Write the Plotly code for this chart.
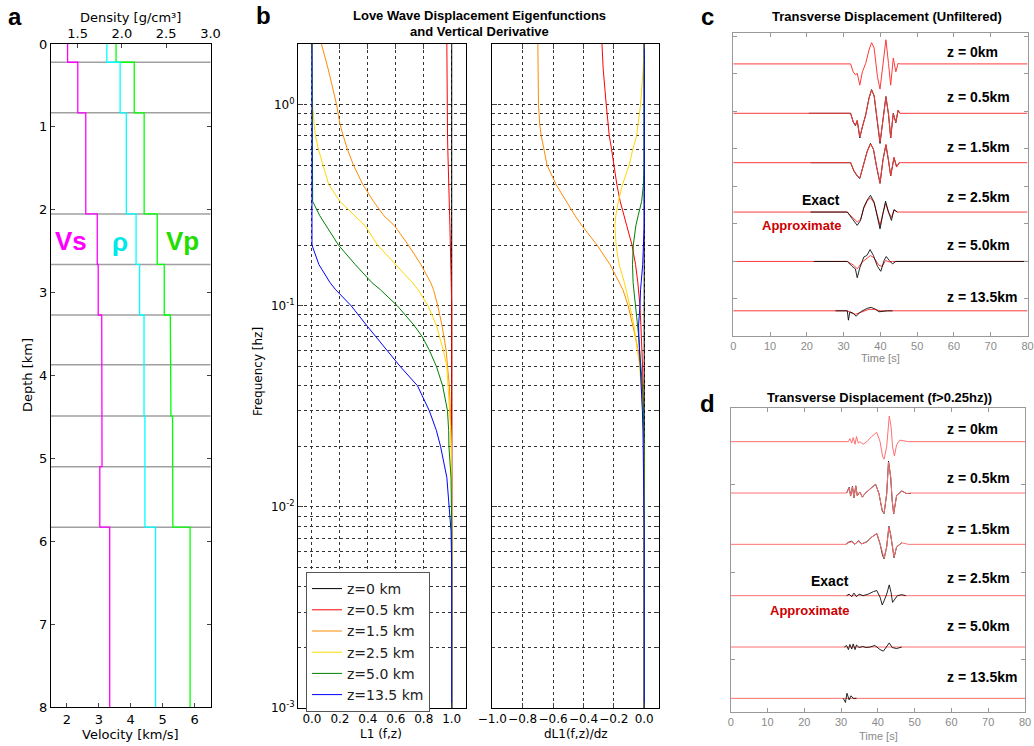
import math
import plotly.graph_objects as go

# ---------------- Panel a: layered velocity / density model ----------------
LAYER_TOP_KM = [0.0, 0.22, 0.83, 2.05, 2.66, 3.27, 3.87, 4.49, 5.10, 5.83]
MODEL_BOTTOM_KM = 8.0
VS_KMS = [2.02, 2.34, 2.59, 2.95, 2.98, 3.09, 3.09, 3.10, 3.03, 3.34]
VP_KMS = [3.54, 4.11, 4.42, 4.83, 5.05, 5.24, 5.26, 5.31, 5.32, 5.86]
RHO_GCC = [1.83, 1.98, 2.05, 2.16, 2.20, 2.25, 2.25, 2.26, 2.26, 2.38]

# ---------------- Panel b: Love-wave eigenfunctions ----------------
FREQ_HZ = [2.0, 1.5, 1.0, 0.8, 0.7, 0.6, 0.5, 0.4, 0.33, 0.28,
           0.25, 0.2, 0.16, 0.13, 0.12, 0.1, 0.08, 0.07, 0.06, 0.05,
           0.04, 0.034, 0.03, 0.024, 0.02, 0.014, 0.01, 0.0076, 0.005, 0.001]
DEPTH_NAMES = ["z=0 km", "z=0.5 km", "z=1.5 km", "z=2.5 km", "z=5.0 km", "z=13.5 km"]

L1_Z00 = [1.0, 1.0, 1.0, 1.0, 1.0, 1.0, 1.0, 1.0, 1.0, 1.0,
          1.0, 1.0, 1.0, 1.0, 1.0, 1.0, 1.0, 1.0, 1.0, 1.0,
          1.0, 1.0, 1.0, 1.0, 1.0, 1.0, 1.0, 1.0, 1.0, 1.0]
L1_Z05 = [0.965, 0.965, 0.966, 0.968, 0.970, 0.972, 0.974, 0.977, 0.983, 0.985,
          0.987, 0.990, 0.995, 0.998, 1.0, 1.0, 1.0, 1.0, 1.0, 1.0,
          1.0, 1.0, 1.0, 1.0, 1.0, 1.0, 1.0, 1.0, 1.0, 1.0]
L1_Z15 = [0.068, 0.116, 0.176, 0.200, 0.224, 0.253, 0.297, 0.364, 0.440, 0.515,
          0.590, 0.690, 0.780, 0.850, 0.870, 0.900, 0.930, 0.945, 0.960, 0.970,
          0.983, 0.987, 0.990, 0.995, 0.997, 1.0, 1.0, 1.0, 1.0, 1.0]
L1_Z25 = [0.0, 0.0, 0.005, 0.015, 0.025, 0.046, 0.078, 0.120, 0.200, 0.310,
          0.380, 0.470, 0.600, 0.720, 0.760, 0.830, 0.890, 0.915, 0.940, 0.965,
          0.975, 0.980, 0.985, 0.993, 0.997, 1.0, 1.0, 1.0, 1.0, 1.0]
L1_Z50 = [0.0, 0.0, 0.0, 0.0, 0.0, 0.0, 0.0, 0.0, 0.005, 0.056,
          0.100, 0.190, 0.310, 0.430, 0.490, 0.610, 0.730, 0.790, 0.840, 0.890,
          0.935, 0.955, 0.970, 0.978, 0.980, 0.995, 1.0, 1.0, 1.0, 1.0]
L1_Z135 = [0.0, 0.0, 0.0, 0.0, 0.0, 0.0, 0.0, 0.0, 0.0, 0.0,
           0.0, 0.0, 0.05, 0.13, 0.17, 0.28, 0.39, 0.46, 0.54, 0.63,
           0.755, 0.80, 0.84, 0.89, 0.92, 0.965, 0.98, 0.995, 1.0, 1.0]

DL1_Z00 = [0.0, 0.0, 0.0, 0.0, 0.0, 0.0, 0.0, 0.0, 0.0, 0.0,
           0.0, 0.0, 0.0, 0.0, 0.0, 0.0, 0.0, 0.0, 0.0, 0.0,
           0.0, 0.0, 0.0, 0.0, 0.0, 0.0, 0.0, 0.0, 0.0, 0.0]
DL1_Z05 = [-0.278, -0.27, -0.25, -0.24, -0.23, -0.215, -0.20, -0.18, -0.158, -0.13,
           -0.115, -0.08, -0.057, -0.042, -0.037, -0.028, -0.022, -0.018, -0.013, -0.011,
           -0.008, -0.007, -0.005, -0.003, -0.002, 0.0, 0.0, 0.0, 0.0, 0.0]
DL1_Z15 = [-0.70, -0.70, -0.696, -0.688, -0.678, -0.66, -0.64, -0.58, -0.513, -0.455,
           -0.41, -0.31, -0.225, -0.16, -0.14, -0.106, -0.073, -0.058, -0.04, -0.025,
           -0.017, -0.012, -0.01, -0.005, -0.003, 0.0, 0.0, 0.0, 0.0, 0.0]
DL1_Z25 = [0.0, -0.007, -0.024, -0.038, -0.05, -0.075, -0.099, -0.143, -0.17, -0.187,
           -0.193, -0.185, -0.165, -0.13, -0.118, -0.095, -0.068, -0.055, -0.045, -0.03,
           -0.02, -0.012, -0.01, -0.005, -0.003, 0.0, 0.0, 0.0, 0.0, 0.0]
DL1_Z50 = [0.0, 0.0, 0.0, 0.0, 0.0, 0.0, 0.0, -0.005, -0.017, -0.04,
           -0.055, -0.072, -0.077, -0.073, -0.068, -0.055, -0.044, -0.036, -0.03, -0.02,
           -0.012, -0.007, -0.005, -0.003, -0.001, 0.0, 0.0, 0.0, 0.0, 0.0]
DL1_Z135 = [0.0, 0.0, 0.0, 0.0, 0.0, 0.0, 0.0, 0.0, 0.0, 0.0,
            0.0, -0.005, -0.01, -0.02, -0.024, -0.028, -0.037, -0.035, -0.03, -0.024,
            -0.018, -0.015, -0.012, -0.008, -0.006, -0.003, -0.001, 0.0, 0.0, 0.0]

# ---------------- Panel c: unfiltered transverse displacement ----------------
C_Z00_T = [0, 31.9, 32.6, 33.2, 33.7, 34.4, 35.1, 36.0, 36.9, 37.6, 38.3, 39.2, 39.9, 40.7, 41.5, 42.2, 42.8, 43.5, 44.2, 44.8, 45.3, 80]
C_Z00_APPROX = [0, 0, -0.16, -0.22, -0.19, -0.43, -0.16, 0.01, 0.28, 0.43, 0.32, -0.26, -0.51, 0.01, 0.49, 0.01, -0.43, 0.12, -0.16, 0.01, 0, 0]

C_Z05_T = [0, 31.9, 32.6, 33.2, 33.7, 34.4, 35.1, 36.0, 36.9, 37.6, 38.3, 39.2, 39.9, 40.7, 41.5, 42.2, 42.8, 43.5, 44.2, 44.8, 45.3, 80]
C_Z05_APPROX = [0, 0, -0.18, -0.24, -0.14, -0.48, -0.28, -0.04, 0.30, 0.47, 0.36, -0.14, -0.58, -0.14, 0.33, -0.01, -0.49, -0.01, -0.18, 0.06, 0, 0]
C_Z05_EXACT_T = [20.5, 31.9, 32.6, 33.2, 33.7, 34.4, 35.1, 36.0, 36.9, 37.6, 38.3, 39.2, 39.9, 40.7, 41.5, 42.2, 42.8, 43.5, 44.2, 44.8, 45.3]
C_Z05_EXACT = [0, 0, -0.17, -0.25, -0.15, -0.50, -0.27, -0.03, 0.31, 0.48, 0.35, -0.15, -0.61, -0.13, 0.34, -0.02, -0.50, 0.0, -0.19, 0.06, 0]

C_Z15_T = [0, 31.9, 32.8, 33.7, 34.4, 35.5, 36.4, 37.3, 38.1, 39.0, 39.9, 40.7, 41.5, 42.2, 42.8, 43.7, 44.4, 45.2, 45.5, 80]
C_Z15_APPROX = [0, 0, -0.16, -0.26, -0.31, -0.02, 0.22, 0.38, 0.28, -0.09, -0.41, 0.05, 0.37, 0.05, -0.26, 0.11, -0.09, 0.01, 0, 0]
C_Z15_EXACT_T = [21.0, 31.9, 32.8, 33.7, 34.4, 35.5, 36.4, 37.3, 38.1, 39.0, 39.9, 40.7, 41.5, 42.2, 42.8, 43.7, 44.4, 45.2]
C_Z15_EXACT = [0, 0, -0.17, -0.27, -0.32, -0.03, 0.23, 0.39, 0.27, -0.10, -0.42, 0.06, 0.36, 0.04, -0.27, 0.10, -0.08, 0]

C_Z25_T = [0, 31.0, 32.3, 33.7, 34.6, 35.5, 36.4, 37.3, 38.3, 39.2, 39.9, 40.7, 41.4, 42.2, 43.0, 43.7, 44.6, 80]
C_Z25_APPROX = [0, 0, -0.10, -0.20, -0.15, 0.08, 0.22, 0.29, 0.18, -0.08, -0.27, -0.02, 0.17, 0.0, -0.11, 0.04, 0, 0]
C_Z25_EXACT_T = [21.0, 31.0, 32.3, 33.7, 34.6, 35.5, 36.4, 37.3, 38.3, 39.2, 39.9, 40.7, 41.4, 42.2, 43.0, 43.7, 44.6]
C_Z25_EXACT = [0, 0, -0.13, -0.27, -0.17, 0.10, 0.24, 0.34, 0.20, -0.10, -0.34, -0.03, 0.22, 0, -0.17, 0.05, 0]

C_Z50_T = [0, 31.0, 32.8, 33.7, 35.1, 36.4, 37.3, 38.3, 39.6, 40.5, 41.4, 42.4, 43.3, 80]
C_Z50_APPROX = [0, 0, -0.08, -0.15, -0.01, 0.07, 0.12, 0.07, -0.08, -0.10, 0.02, -0.01, 0, 0]
C_Z50_EXACT_T = [21.9, 31.0, 32.3, 33.2, 33.7, 34.4, 35.5, 36.3, 37.2, 38.1, 39.2, 40.1, 41.0, 41.6, 42.4, 43.3, 44.2, 80]
C_Z50_EXACT = [0, 0, -0.10, -0.15, -0.33, -0.13, 0.09, 0.12, 0.24, 0.12, -0.10, -0.20, 0.02, 0.10, 0.02, -0.05, 0, 0]

C_Z135_T = [0, 31.0, 32.3, 33.2, 35.1, 36.9, 38.3, 40.1, 80]
C_Z135_APPROX = [0, 0, -0.05, -0.07, -0.02, 0.03, 0.03, 0, 0]
C_Z135_EXACT_T = [27.8, 31.0, 31.3, 31.7, 32.6, 33.4, 34.6, 36.4, 37.5, 38.7, 39.6, 40.5, 41.9, 43.3]
C_Z135_EXACT = [0, 0, -0.19, -0.02, -0.05, -0.11, -0.02, 0.05, 0.07, 0.03, -0.02, -0.01, 0, 0]

# ---------------- Panel d: filtered (f > 0.25 Hz) ----------------
D_Z00_T = [0, 32.0, 32.4, 32.9, 33.3, 33.8, 34.2, 34.7, 35.1, 36.0, 37.0, 38.3, 39.7, 40.6, 41.3, 41.7, 42.4, 43.1, 43.6, 44.0, 44.5, 45.1, 46.0, 47.4, 48.3, 80]
D_Z00_APPROX = [0, 0, 0.06, -0.03, 0.08, -0.05, 0.10, -0.03, 0, -0.05, 0, 0.10, 0.18, 0, -0.29, -0.34, -0.10, 0.50, 0.29, -0.10, -0.28, -0.06, 0.03, 0.01, 0, 0]

D_Z05_T = [0, 31.5, 32.2, 32.6, 33.1, 33.5, 34.0, 34.4, 35.1, 35.8, 36.5, 37.9, 39.4, 40.3, 41.2, 41.7, 42.4, 42.9, 43.5, 43.9, 44.3, 45.1, 46.5, 47.8, 48.9, 80]
D_Z05_APPROX = [0, 0, 0.10, -0.05, 0.12, -0.08, 0.13, -0.05, 0.02, -0.08, -0.01, 0.08, 0.17, -0.01, -0.34, -0.39, -0.01, 0.60, 0.31, -0.14, -0.40, -0.05, 0.04, -0.01, 0, 0]
D_Z05_EXACT_T = [31.5, 32.2, 32.6, 33.1, 33.5, 34.0, 34.4, 35.1, 35.8, 36.5, 37.9, 39.4, 40.3, 41.2, 41.7, 42.4, 42.9, 43.5, 43.9, 44.3, 45.1, 46.5, 47.8, 48.9]
D_Z05_EXACT = [0, 0.11, -0.06, 0.13, -0.09, 0.14, -0.05, 0.02, -0.08, -0.01, 0.08, 0.17, -0.01, -0.35, -0.40, -0.02, 0.62, 0.30, -0.15, -0.41, -0.05, 0.04, -0.01, -0.01]

D_Z15_T = [0, 31.3, 32.0, 32.9, 33.8, 34.7, 35.6, 37.0, 38.3, 39.7, 40.6, 41.3, 41.7, 42.4, 43.0, 43.5, 44.0, 44.4, 45.1, 46.5, 48.3, 49.6, 80]
D_Z15_APPROX = [0, 0, 0.03, 0.05, 0.01, 0.06, 0.01, 0.05, 0.14, 0.21, 0.01, -0.21, -0.27, -0.05, 0.34, 0.18, -0.12, -0.25, -0.05, 0.03, 0, 0, 0]
D_Z15_EXACT_T = [31.3, 32.0, 32.9, 33.8, 34.7, 35.6, 37.0, 38.3, 39.7, 40.6, 41.3, 41.7, 42.4, 43.0, 43.5, 44.0, 44.4, 45.1, 46.5]
D_Z15_EXACT = [0, 0.04, 0.06, 0.0, 0.07, 0.01, 0.05, 0.14, 0.21, 0.01, -0.22, -0.28, -0.05, 0.35, 0.18, -0.13, -0.26, -0.05, 0.03]

D_Z25_T = [0, 80]
D_Z25_APPROX = [0, 0]
D_Z25_EXACT_T = [31.5, 32.2, 32.9, 33.5, 34.2, 34.9, 36.0, 37.4, 38.8, 39.7, 40.6, 41.2, 41.7, 42.4, 43.1, 43.6, 44.0, 44.5, 45.3, 46.5, 47.6]
D_Z25_EXACT = [0, 0.03, -0.02, 0.05, -0.02, 0.03, 0, 0.03, 0.08, 0.10, -0.03, -0.18, -0.10, 0.03, 0.21, 0.06, -0.13, -0.08, 0, 0.02, 0]

D_Z50_T = [0, 80]
D_Z50_APPROX = [0, 0]
D_Z50_EXACT_T = [30.9, 31.5, 32.0, 32.4, 32.9, 33.3, 33.8, 34.2, 34.9, 35.9, 36.8, 37.9, 39.2, 40.6, 41.5, 42.4, 43.1, 43.9, 45.1, 46.5]
D_Z50_EXACT = [0, 0.03, -0.05, 0.05, -0.04, 0.06, -0.05, 0.04, -0.01, 0.01, -0.01, 0, 0.03, -0.05, -0.08, 0.01, 0.08, -0.01, -0.03, 0]

D_Z135_T = [0, 80]
D_Z135_APPROX = [0, 0]
D_Z135_EXACT_T = [30.6, 31.2, 31.6, 32.2, 32.7, 33.3, 34.2]
D_Z135_EXACT = [0, -0.08, 0.10, -0.03, 0.05, 0, 0]

WAVE_LABELS = ["z = 0km", "z = 0.5km", "z = 1.5km", "z = 2.5km", "z = 5.0km", "z = 13.5km"]

# ============================================================================
W, H = 1034, 746


def px(x):
    return x / W


def py(y):
    return 1 - y / H


fig = go.Figure()


# ---- panel a traces
def step_profile(vals):
    bottoms = LAYER_TOP_KM[1:] + [MODEL_BOTTOM_KM]
    xs, ys = [], []
    for v, top, bot in zip(vals, LAYER_TOP_KM, bottoms):
        xs += [v, v]
        ys += [top, bot]
    return xs, ys


for vals, col, xa in [(VS_KMS, "#ff00ff", "x"), (RHO_GCC, "#00ffff", "x2"), (VP_KMS, "#00ff00", "x")]:
    xs, ys = step_profile(vals)
    fig.add_trace(go.Scatter(x=xs, y=ys, mode="lines", line=dict(color=col, width=1.3),
                             xaxis=xa, yaxis="y", showlegend=False, hoverinfo="skip"))

for d in LAYER_TOP_KM[1:]:
    fig.add_shape(type="line", xref="x domain", yref="y", x0=0, x1=1, y0=d, y1=d,
                  line=dict(color="#a0a0a0", width=1.5), layer="below")

# ---- panel b traces
B_COLORS = ["#000000", "#ff0000", "#ff8c00", "#ffd700", "#008000", "#0000ff"]
L1_ALL = [L1_Z00, L1_Z05, L1_Z15, L1_Z25, L1_Z50, L1_Z135]
DL1_ALL = [DL1_Z00, DL1_Z05, DL1_Z15, DL1_Z25, DL1_Z50, DL1_Z135]
for name, col, l1 in zip(DEPTH_NAMES, B_COLORS, L1_ALL):
    fig.add_trace(go.Scatter(x=l1, y=FREQ_HZ, mode="lines", name=name,
                             line=dict(color=col, width=1), xaxis="x3", yaxis="y3",
                             hoverinfo="skip"))
for name, col, dl in zip(DEPTH_NAMES, B_COLORS, DL1_ALL):
    fig.add_trace(go.Scatter(x=dl, y=FREQ_HZ, mode="lines", name=name, showlegend=False,
                             line=dict(color=col, width=1), xaxis="x4", yaxis="y4",
                             hoverinfo="skip"))

# ---- panels c & d traces
OFFSETS = [0, -1, -2, -3, -4, -5]
C_APPROX = [(C_Z00_T, C_Z00_APPROX), (C_Z05_T, C_Z05_APPROX), (C_Z15_T, C_Z15_APPROX),
            (C_Z25_T, C_Z25_APPROX), (C_Z50_T, C_Z50_APPROX), (C_Z135_T, C_Z135_APPROX)]
C_EXACT = [None, (C_Z05_EXACT_T, C_Z05_EXACT), (C_Z15_EXACT_T, C_Z15_EXACT),
           (C_Z25_EXACT_T, C_Z25_EXACT), (C_Z50_EXACT_T, C_Z50_EXACT), (C_Z135_EXACT_T, C_Z135_EXACT)]
D_APPROX = [(D_Z00_T, D_Z00_APPROX), (D_Z05_T, D_Z05_APPROX), (D_Z15_T, D_Z15_APPROX),
            (D_Z25_T, D_Z25_APPROX), (D_Z50_T, D_Z50_APPROX), (D_Z135_T, D_Z135_APPROX)]
D_EXACT = [None, (D_Z05_EXACT_T, D_Z05_EXACT), (D_Z15_EXACT_T, D_Z15_EXACT),
           (D_Z25_EXACT_T, D_Z25_EXACT), (D_Z50_EXACT_T, D_Z50_EXACT), (D_Z135_EXACT_T, D_Z135_EXACT)]


def add_wave(t, a, off, color, xa, ya, width=1.0):
    fig.add_trace(go.Scatter(x=t, y=[off + v for v in a], mode="lines",
                             line=dict(color=color, width=width), xaxis=xa, yaxis=ya,
                             showlegend=False, hoverinfo="skip"))


RED_ON_TOP = [True, True, True, False, False, False]
for i, off in enumerate(OFFSETS):
    for (app, ex, red, xa, ya) in [(C_APPROX[i], C_EXACT[i], "#ff3a3a", "x5", "y5"),
                                   (D_APPROX[i], D_EXACT[i], "#ff7070", "x6", "y6")]:
        if RED_ON_TOP[i]:
            if ex is not None:
                add_wave(*ex, off, "rgba(0,0,0,0.9)", xa, ya)
            add_wave(*app, off, red, xa, ya)
        else:
            add_wave(*app, off, red, xa, ya)
            if ex is not None:
                add_wave(*ex, off, "rgba(0,0,0,0.85)", xa, ya)

# ---- layout
DJ = "DejaVu Sans"
LS = "Liberation Sans, Arial"
tick_a = dict(family=DJ, size=13, color="black")
tick_b = dict(family=DJ, size=12, color="black")
tick_cd = dict(family=LS, size=11, color="#8a8a8a")

grid = dict(showgrid=True, gridcolor="#333333", griddash="3px,3px", gridwidth=1)
minor_f = [m * 10 ** e for e in (-3, -2, -1) for m in range(2, 10)]
ylog = dict(type="log", range=[-3, math.log10(2.0)], domain=[py(708), py(44)],
            tickvals=[0.001, 0.01, 0.1, 1.0], ticks="inside", ticklen=5,
            showline=True, linecolor="black", linewidth=1, mirror="ticks", zeroline=False,
            automargin=False,
            minor=dict(tickvals=minor_f, ticks="inside", ticklen=3, showgrid=True,
                       gridcolor="#333333", griddash="3px,3px", gridwidth=1),
            **grid)

fig.update_layout(
    width=W, height=H, margin=dict(l=0, r=0, t=0, b=0, autoexpand=False),
    paper_bgcolor="white", plot_bgcolor="white",
    legend=dict(x=px(306), y=py(572), xanchor="left", yanchor="top",
                bordercolor="#555555", borderwidth=1, bgcolor="white",
                font=dict(family=DJ, size=14, color="#222222"), tracegroupgap=0),
    # panel a
    xaxis=dict(domain=[px(51), px(210.5)], range=[1.5, 6.5], anchor="y", automargin=False,
               tickvals=[2, 3, 4, 5, 6], ticks="inside", ticklen=4,
               showline=True, linecolor="black", linewidth=1, mirror=True,
               showgrid=False, zeroline=False, tickfont=tick_a),
    xaxis2=dict(overlaying="x", side="top", anchor="y", range=[1.2, 3.0], automargin=False,
                tickvals=[1.5, 2.0, 2.5, 3.0], ticktext=["1.5", "2.0", "2.5", "3.0"],
                ticks="inside", ticklen=4, showline=True, linecolor="black",
                showgrid=False, zeroline=False, tickfont=tick_a),
    yaxis=dict(domain=[py(707), py(44)], range=[8, 0], anchor="x", automargin=False,
               tickvals=[0, 1, 2, 3, 4, 5, 6, 7, 8], ticks="inside", ticklen=4,
               showline=True, linecolor="black", linewidth=1, mirror="ticks",
               showgrid=False, zeroline=False, tickfont=tick_a),
    # panel b left
    xaxis3=dict(domain=[px(298), px(465.7)], range=[-0.1, 1.1], anchor="y3", automargin=False,
                tickvals=[0, 0.2, 0.4, 0.6, 0.8, 1.0],
                ticktext=["0.0", "0.2", "0.4", "0.6", "0.8", "1.0"], tickangle=0,
                ticks="inside", ticklen=5, showline=True, linecolor="black", linewidth=1,
                mirror="ticks", zeroline=False, tickfont=tick_b, **grid),
    yaxis3=dict(anchor="x3", ticktext=["10<sup>-3</sup>", "10<sup>-2</sup>", "10<sup>-1</sup>", "10<sup>0</sup>"],
                tickfont=tick_b, **ylog),
    # panel b right
    xaxis4=dict(domain=[px(492.3), px(659.4)], range=[-1.0, 0.1], anchor="y4", automargin=False,
                tickvals=[-1.0, -0.8, -0.6, -0.4, -0.2, 0.0],
                ticktext=["\u22121.0", "\u22120.8", "\u22120.6", "\u22120.4", "\u22120.2", "0.0"],
                tickangle=0,
                ticks="inside", ticklen=5, showline=True, linecolor="black", linewidth=1,
                mirror="ticks", zeroline=False, tickfont=tick_b, **grid),
    yaxis4=dict(anchor="x4", showticklabels=False, **ylog),
    # panel c
    xaxis5=dict(domain=[px(733.3), px(1027.5)], range=[0, 80], anchor="y5", automargin=False,
                tickvals=[0, 10, 20, 30, 40, 50, 60, 70, 80], ticks="inside", ticklen=4,
                tickcolor="#999999", showline=True, linecolor="#999999", linewidth=1,
                mirror="ticks", showgrid=False, zeroline=False, tickfont=tick_cd, tickangle=0),
    yaxis5=dict(domain=[py(336), py(33.3)], range=[-5.51, 0.62], anchor="x5", automargin=False,
                tickmode="linear", tick0=-4.0, dtick=0.76, showticklabels=False,
                ticks="inside", ticklen=4, tickcolor="#999999", showline=True,
                linecolor="#999999", linewidth=1, mirror="ticks", showgrid=False, zeroline=False),
    # panel d
    xaxis6=dict(domain=[px(730.7), px(1025)], range=[0, 80], anchor="y6", automargin=False,
                tickvals=[0, 10, 20, 30, 40, 50, 60, 70, 80], ticks="inside", ticklen=4,
                tickcolor="#999999", showline=True, linecolor="#999999", linewidth=1,
                mirror="ticks", showgrid=False, zeroline=False, tickfont=tick_cd, tickangle=0),
    yaxis6=dict(domain=[py(711.7), py(408.3)], range=[-5.26, 0.65], anchor="x6", automargin=False,
                tickmode="linear", tick0=-0.84, dtick=1.7, showticklabels=False,
                ticks="inside", ticklen=4, tickcolor="#999999", showline=True,
                linecolor="#999999", linewidth=1, mirror="ticks", showgrid=False, zeroline=False),
)

anns = []


def ann(text, x, y, size, color="black", family=DJ, angle=0, xanchor="center"):
    anns.append(dict(text=text, x=px(x), y=py(y), xref="paper", yref="paper",
                     showarrow=False, xanchor=xanchor, yanchor="middle", textangle=angle,
                     font=dict(family=family, size=size, color=color)))


# panel letters
ann("<b>a</b>", 15, 16, 24, family=LS)
ann("<b>b</b>", 263, 15, 24, family=LS)
ann("<b>c</b>", 707, 16, 24, family=LS)
ann("<b>d</b>", 707, 403, 24, family=LS)

# panel a texts
ann("Density [g/cm\u00b3]", 130.5, 17, 13)
ann("Velocity [km/s]", 130.5, 734, 13)
ann("Depth [km]", 27, 375, 13, angle=-90)
ann("<b>Vs</b>", 70.5, 241, 26, color="#ff00ff", family=LS)
ann("<b>\u03c1</b>", 120, 242, 26, color="#00e8e8", family=LS)
ann("<b>Vp</b>", 182, 241, 26, color="#22dd00", family=LS)

# panel b texts
ann("<b>Love Wave Displacement Eigenfunctions</b>", 479, 15, 13, family=LS)
ann("<b>and Vertical Derivative</b>", 479, 31, 13, family=LS)
ann("Frequency [hz]", 258, 372, 12, angle=-90)
ann("L1 (f,z)", 381, 734, 12)
ann("dL1(f,z)/dz", 576, 734, 12)

# panel c texts
ann("<b>Transverse Displacement (Unfiltered)</b>", 887, 16, 13, family=LS)
for lbl, yy in zip(WAVE_LABELS, [52, 97, 147.5, 196.5, 245, 297]):
    ann("<b>" + lbl + "</b>", 945, yy, 14, family=LS, xanchor="left")
ann("<b>Exact</b>", 821, 200, 14, family=LS)
ann("<b>Approximate</b>", 801, 226, 13, color="#cc0000", family=LS)
ann("Time [s]", 880, 358, 11, color="#8a8a8a", family=LS)

# panel d texts
ann("<b>Transverse Displacement (f>0.25hz))</b>", 879, 397, 13, family=LS)
for lbl, yy in zip(WAVE_LABELS, [429, 478, 529, 578, 626, 677]):
    ann("<b>" + lbl + "</b>", 945, yy, 14, family=LS, xanchor="left")
ann("<b>Exact</b>", 830, 581, 14, family=LS)
ann("<b>Approximate</b>", 809, 610, 13, color="#cc0000", family=LS)
ann("Time [s]", 878, 736, 11, color="#8a8a8a", family=LS)

fig.update_layout(annotations=anns)

fig.write_html("out.html")
